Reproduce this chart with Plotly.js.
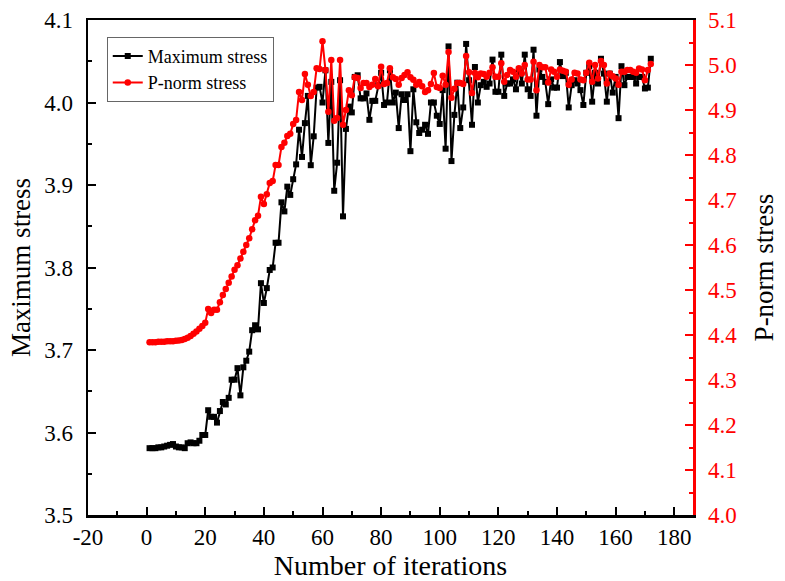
<!DOCTYPE html>
<html>
<head>
<meta charset="utf-8">
<script src="https://cdn.plot.ly/plotly-3.0.1.min.js"></script>
<style>html,body{margin:0;padding:0;background:#fff;}#chart{width:785px;height:581px;}</style>
</head>
<body>
<div id="chart"></div>
<script>
// Maximum stress (left axis), iterations 1..172
const maxStress = [
3.581,3.581,3.581,3.582,3.582,3.583,3.584,3.585,3.586,3.583,
3.582,3.582,3.581,3.587,3.588,3.587,3.587,3.590,3.597,3.597,
3.627,3.619,3.619,3.612,3.626,3.637,3.634,3.642,3.664,3.664,
3.678,3.645,3.679,3.687,3.698,3.724,3.730,3.725,3.781,3.757,
3.775,3.797,3.800,3.830,3.830,3.879,3.868,3.898,3.888,3.907,
3.925,3.967,3.934,3.975,4.008,3.924,3.959,4.018,4.019,4.000,
4.039,3.951,4.025,3.893,3.927,4.027,3.862,3.968,3.995,3.988,
4.031,4.033,4.005,4.005,4.011,3.979,4.002,4.002,4.021,4.036,
3.997,4.000,4.039,4.000,4.012,3.969,4.010,4.003,4.010,3.941,
4.016,3.976,3.963,3.967,3.973,3.962,4.000,4.000,3.984,3.974,
4.015,3.944,4.068,3.929,3.985,4.024,3.969,3.994,4.071,4.027,
3.973,4.043,4.000,4.021,4.025,4.019,4.023,4.052,4.013,4.013,
4.058,4.008,4.023,4.023,4.028,4.016,4.040,4.023,4.058,4.016,
4.008,4.064,3.984,4.040,4.031,4.025,3.998,4.028,4.018,4.018,
4.049,4.032,4.036,3.994,4.021,4.027,4.023,4.015,3.997,4.036,
4.044,4.001,4.036,4.023,4.053,4.035,4.001,4.035,4.012,4.031,
3.981,4.044,4.021,4.031,4.031,4.031,4.023,4.031,4.031,4.017,
4.018,4.053
];
// P-norm stress (right axis), iterations 1..172
const pnormStress = [
4.384,4.384,4.384,4.385,4.385,4.385,4.386,4.386,4.386,4.387,
4.388,4.389,4.391,4.394,4.398,4.403,4.408,4.414,4.420,4.427,
4.458,4.449,4.456,4.456,4.473,4.489,4.502,4.516,4.530,4.545,
4.555,4.570,4.585,4.600,4.615,4.635,4.655,4.665,4.707,4.691,
4.713,4.738,4.742,4.778,4.778,4.818,4.827,4.842,4.847,4.869,
4.878,4.940,4.922,4.980,4.956,4.931,4.940,4.993,4.991,5.053,
4.989,4.896,5.011,4.876,4.882,5.011,4.867,4.900,4.944,4.933,
4.973,4.971,4.949,4.960,4.960,4.951,4.956,4.969,4.953,4.996,
4.958,4.960,4.993,4.973,4.969,4.956,4.971,4.978,4.984,4.973,
4.967,4.956,4.962,4.953,4.940,4.944,4.958,4.982,4.951,4.949,
4.976,4.956,5.029,4.927,4.947,4.960,4.960,4.958,5.020,4.984,
4.938,4.982,4.973,4.981,4.980,4.974,4.983,4.995,4.974,4.974,
5.004,4.963,4.978,4.989,4.985,4.974,4.993,4.981,5.000,4.968,
4.968,5.007,4.944,5.000,4.995,4.995,4.961,4.990,4.985,4.974,
4.990,4.987,4.985,4.956,4.968,4.983,4.981,4.968,4.966,4.983,
5.005,4.963,5.000,4.970,5.009,5.000,4.959,4.981,4.975,4.970,
4.956,4.985,4.985,4.989,4.989,4.985,4.983,4.992,4.990,4.966,
4.989,5.002
];
const iterations = maxStress.map((_, k) => k + 1);
const xTicks = [-20,0,20,40,60,80,100,120,140,160,180];
const yTicksLeft = [3.5,3.6,3.7,3.8,3.9,4.0,4.1];
const yTicksRight = [4.0,4.1,4.2,4.3,4.4,4.5,4.6,4.7,4.8,4.9,5.0,5.1];

const FONT = 'Liberation Serif, Times New Roman, serif';

const traces = [
  {
    x: iterations, y: maxStress, name: 'Maximum stress', type: 'scatter', mode: 'lines+markers',
    line: {color: '#000000', width: 2},
    marker: {symbol: 'square', size: 6, color: '#000000'},
    yaxis: 'y'
  },
  {
    x: iterations, y: pnormStress, name: 'P-norm stress', type: 'scatter', mode: 'lines+markers',
    line: {color: '#ff0000', width: 2},
    marker: {symbol: 'circle', size: 6.5, color: '#ff0000'},
    yaxis: 'y2'
  }
];

const layout = {
  width: 785, height: 581,
  margin: {l: 88, r: 92, t: 20, b: 66, pad: 0},
  paper_bgcolor: '#ffffff', plot_bgcolor: '#ffffff',
  font: {family: FONT, size: 23, color: '#000'},
  showlegend: true,
  legend: {
    x: 0.031, y: 0.966, xanchor: 'left', yanchor: 'top',
    bgcolor: '#ffffff', bordercolor: '#666666', borderwidth: 1,
    font: {family: FONT, size: 18, color: '#000'},
    tracegroupgap: 0
  },
  xaxis: {
    range: [-20, 186.4], tickvals: xTicks, ticktext: xTicks.map(String),
    showgrid: false, zeroline: false,
    showline: true, linecolor: '#000', linewidth: 2.5, mirror: true,
    ticks: 'inside', ticklen: 8, tickwidth: 2, tickcolor: '#000',
    minor: {dtick: 10, tick0: -10, ticks: 'inside', ticklen: 4, tickwidth: 2, tickcolor: '#000'},
    tickfont: {family: FONT, size: 23, color: '#000'},
    title: {text: 'Number of iterations', font: {family: FONT, size: 28, color: '#000'}, standoff: 10}
  },
  yaxis: {
    range: [3.5, 4.1], tickvals: yTicksLeft, ticktext: yTicksLeft.map(v => v.toFixed(1)),
    showgrid: false, zeroline: false,
    showline: true, linecolor: '#000', linewidth: 2.5, mirror: false,
    ticks: 'inside', ticklen: 8, tickwidth: 2, tickcolor: '#000',
    minor: {dtick: 0.05, tick0: 3.5, ticks: 'inside', ticklen: 4, tickwidth: 2, tickcolor: '#000'},
    tickfont: {family: FONT, size: 23, color: '#000'},
    ticklabelstandoff: 8,
    title: {text: 'Maximum stress', font: {family: FONT, size: 27, color: '#000'}, standoff: 6}
  },
  yaxis2: {
    overlaying: 'y', side: 'right',
    range: [4.0, 5.1], tickvals: yTicksRight, ticktext: yTicksRight.map(v => v.toFixed(1)),
    showgrid: false, zeroline: false,
    showline: true, linecolor: '#ff0000', linewidth: 2.5,
    ticks: 'inside', ticklen: 8, tickwidth: 2, tickcolor: '#ff0000',
    minor: {dtick: 0.05, tick0: 4.0, ticks: 'inside', ticklen: 4, tickwidth: 2, tickcolor: '#ff0000'},
    tickfont: {family: FONT, size: 23, color: '#ff0000'},
    ticklabelstandoff: 8,
    title: {text: 'P-norm stress', font: {family: FONT, size: 27, color: '#000'}, standoff: 18}
  }
};

Plotly.newPlot('chart', traces, layout, {displayModeBar: false, staticPlot: true});
</script>
</body>
</html>
